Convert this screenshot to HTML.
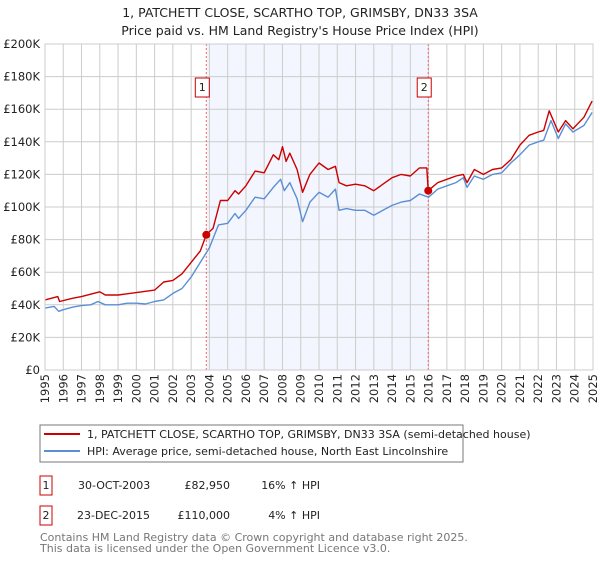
<!DOCTYPE html>
<html><head><meta charset="utf-8"><style>
body{margin:0;background:#fff;font-family:"Liberation Sans","DejaVu Sans",sans-serif;}
svg text{font-family:"DejaVu Sans","Liberation Sans",sans-serif;}
</style></head><body>
<svg width="600" height="560" viewBox="0 0 600 560">
<text x="300" y="17" text-anchor="middle" font-size="12.5" fill="#222">1, PATCHETT CLOSE, SCARTHO TOP, GRIMSBY, DN33 3SA</text>
<text x="300" y="35" text-anchor="middle" font-size="12.5" fill="#222">Price paid vs. HM Land Registry's House Price Index (HPI)</text>
<g id="plot"></g>
<rect x="40" y="425" width="423" height="37" fill="#fff" stroke="#777"/>
<line x1="44" y1="434" x2="80" y2="434" stroke="#cc0000" stroke-width="2"/>
<text x="87" y="438" font-size="11" fill="#222">1, PATCHETT CLOSE, SCARTHO TOP, GRIMSBY, DN33 3SA (semi-detached house)</text>
<line x1="44" y1="451" x2="80" y2="451" stroke="#5b8fd4" stroke-width="2"/>
<text x="87" y="455" font-size="11" fill="#222">HPI: Average price, semi-detached house, North East Lincolnshire</text>
<g>
<rect x="40" y="476" width="12" height="19" fill="#fff" stroke="#cc0000"/>
<text x="46" y="489" text-anchor="middle" font-size="11" fill="#222">1</text>
<text x="78" y="489" font-size="11" fill="#222">30-OCT-2003</text>
<text x="230" y="489" text-anchor="end" font-size="11" fill="#222">£82,950</text>
<text x="320" y="489" text-anchor="end" font-size="11" fill="#222">16% ↑ HPI</text>
</g>
<g>
<rect x="40" y="506" width="12" height="19" fill="#fff" stroke="#cc0000"/>
<text x="46" y="519" text-anchor="middle" font-size="11" fill="#222">2</text>
<text x="77" y="519" font-size="11" fill="#222">23-DEC-2015</text>
<text x="230" y="519" text-anchor="end" font-size="11" fill="#222">£110,000</text>
<text x="320" y="519" text-anchor="end" font-size="11" fill="#222">4% ↑ HPI</text>
</g>
<text x="40" y="541" font-size="11" fill="#777">Contains HM Land Registry data © Crown copyright and database right 2025.</text>
<text x="40" y="552" font-size="11" fill="#777">This data is licensed under the Open Government Licence v3.0.</text>
</svg>
<script>
const hpiYears=[1995,1995.5,1995.75,1996,1996.5,1997,1997.5,1997.9,1998.3,1999,1999.5,2000,2000.5,2001,2001.5,2002,2002.5,2003,2003.5,2004,2004.5,2005,2005.4,2005.6,2006,2006.5,2007,2007.5,2007.9,2008.1,2008.4,2008.8,2009.1,2009.5,2010,2010.5,2010.9,2011.1,2011.5,2012,2012.5,2013,2013.5,2014,2014.5,2015,2015.5,2016,2016.5,2017,2017.5,2017.9,2018.1,2018.5,2019,2019.5,2020,2020.5,2021,2021.5,2022,2022.3,2022.7,2023.1,2023.5,2023.9,2024.5,2024.95];
const hpiValues=[38,39,36,37,38.5,39.5,40,42,40,40,41,41,40.5,42,43,47,50,57,66,75,89,90,96,93,98,106,105,112,117,110,115,105,91,103,109,106,111,98,99,98,98,95,98,101,103,104,108,106,111,113,115,118,112,119,117,120,121,127,132,138,140,141,153,142,151,146,150,158];
const priceYears=[1995,1995.7,1995.8,1996.5,1997,1998,1998.3,1999,2000,2001,2001.5,2002,2002.5,2003,2003.5,2003.83,2004.2,2004.6,2005,2005.4,2005.6,2006,2006.5,2007,2007.5,2007.8,2008,2008.2,2008.4,2008.8,2009.1,2009.5,2010,2010.5,2010.9,2011.1,2011.5,2012,2012.5,2013,2013.5,2014,2014.5,2015,2015.5,2015.9,2015.98,2016.5,2017,2017.5,2017.9,2018.1,2018.5,2019,2019.5,2020,2020.5,2021,2021.5,2022,2022.3,2022.6,2023.1,2023.5,2023.9,2024.5,2024.95];
const priceValues=[43,45,42,44,45,48,46,46,47.5,49,54,55,59,66,73,82.95,87,104,104,110,108,113,122,121,132,129,137,128,133,123,109,120,127,123,125,115,113,114,113,110,114,118,120,119,124,124,110,115,117,119,120,115,123,120,123,124,129,138,144,146,147,159,146,153,148,155,165];
const saleYears=[2003.83,2015.98];
const saleValues=[82.95,110];
const saleLabels=["1","2"];
const yTicks=[0,20,40,60,80,100,120,140,160,180,200];
const yTickLabels=["£0","£20K","£40K","£60K","£80K","£100K","£120K","£140K","£160K","£180K","£200K"];
const xTicks=[1995,1996,1997,1998,1999,2000,2001,2002,2003,2004,2005,2006,2007,2008,2009,2010,2011,2012,2013,2014,2015,2016,2017,2018,2019,2020,2021,2022,2023,2024,2025];

const NS="http://www.w3.org/2000/svg";
const g=document.getElementById('plot');
const L=45,R=593,T=44,B=370;
const xs=y=>L+(y-1995)/30*(R-L);
const ys=v=>B-v/200*(B-T);
function mk(t,a){const e=document.createElementNS(NS,t);for(const k in a)e.setAttribute(k,a[k]);g.appendChild(e);return e;}
const bg=mk('rect',{x:L,y:T,width:R-L,height:B-T,fill:'#fff'});


const sh=mk('rect',{x:xs(saleYears[0]),y:T,width:xs(saleYears[1])-xs(saleYears[0]),height:B-T,fill:'#f3f6fe'});


yTicks.forEach((v,i)=>{
  const l=mk('line',{x1:L,x2:R,y1:ys(v),y2:ys(v),stroke:'#cccccc','stroke-width':1});
  
  
  const t=mk('text',{x:L-5,y:ys(v)+4,'text-anchor':'end','font-size':'11.5',fill:'#222'});
  t.textContent=yTickLabels[i];
  
  
});
xTicks.forEach(y=>{
  const l=mk('line',{x1:xs(y),x2:xs(y),y1:T,y2:B,stroke:'#cccccc','stroke-width':1});
  
  
  const t=mk('text',{x:0,y:0,'text-anchor':'end','font-size':'11.5',fill:'#222',transform:`translate(${xs(y)+4},${B+4}) rotate(-90)`});
  t.textContent=y;
  
  
});
saleYears.forEach((y,i)=>{
  const l=mk('line',{x1:xs(y),x2:xs(y),y1:T,y2:B,stroke:'#ee6666','stroke-width':1,'stroke-dasharray':'2,2'});
  
  
});
function path(xa,va,color,name){
  const d=xa.map((y,i)=>(i?'L':'M')+xs(y).toFixed(1)+','+ys(va[i]).toFixed(1)).join('');
  const p=mk('path',{d:d,fill:'none',stroke:color,'stroke-width':1.4,'stroke-linejoin':'round'});
  
  
}
path(hpiYears,hpiValues,'#5b8fd4','hpi-line');
path(priceYears,priceValues,'#cc0000','price-paid-line');
saleYears.forEach((y,i)=>{
  const c=mk('circle',{cx:xs(y),cy:ys(saleValues[i]),r:4,fill:'#cc0000'});
  
  
  const bx=mk('rect',{x:xs(y)-11,y:78,width:14,height:19,fill:'#fff',stroke:'#cc0000'});
  
  
  const t=mk('text',{x:xs(y)-4,y:91,'text-anchor':'middle','font-size':'11',fill:'#222'});
  t.textContent=saleLabels[i];
  
  
});
const ax=mk('rect',{x:L,y:T,width:R-L,height:B-T,fill:'none',stroke:'#cccccc'});


</script>
</body></html>
